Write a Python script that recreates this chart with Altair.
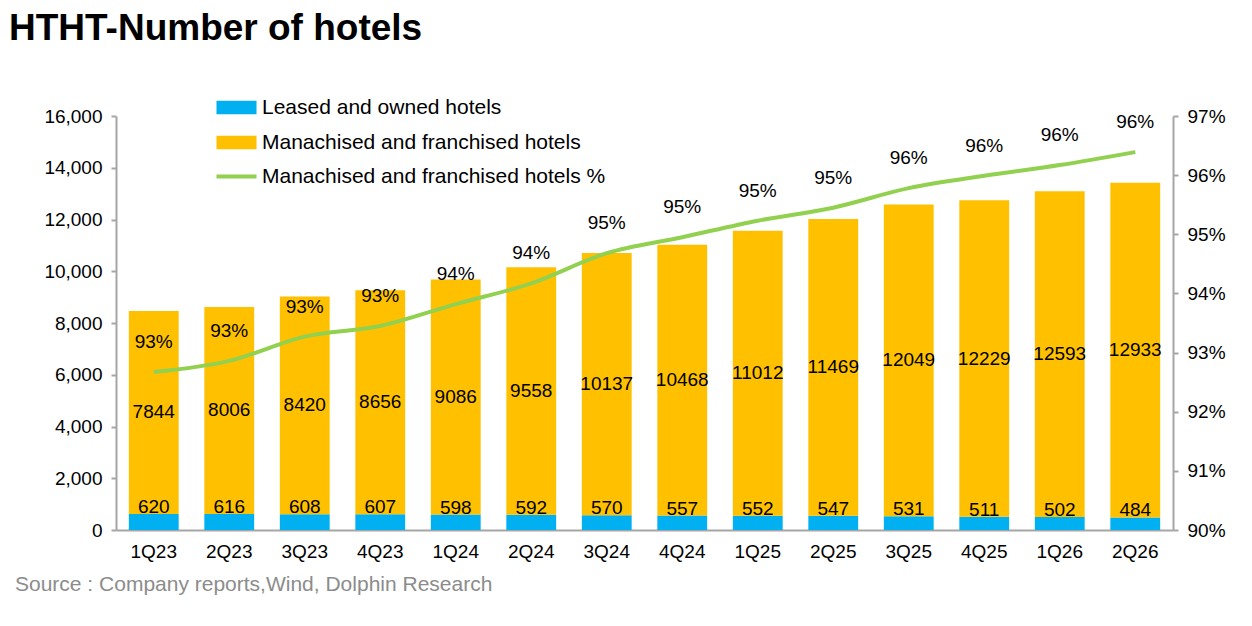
"""HTHT - number of hotels: stacked bars with franchised share line."""

import altair as alt
import pandas as pd

quarters = ["1Q23", "2Q23", "3Q23", "4Q23", "1Q24", "2Q24", "3Q24",
            "4Q24", "1Q25", "2Q25", "3Q25", "4Q25", "1Q26", "2Q26"]
leased = [620, 616, 608, 607, 598, 592, 570, 557, 552, 547, 531, 511, 502, 484]
franchised = [7844, 8006, 8420, 8656, 9086, 9558, 10137, 10468, 11012,
              11469, 12049, 12229, 12593, 12933]
franchised_pct = [0.9267, 0.9286, 0.9327, 0.9345, 0.9382, 0.9417, 0.9468,
                  0.9495, 0.9523, 0.9545, 0.9578, 0.9599, 0.9617, 0.9639]

LEASED = "Leased and owned hotels"
FRANCH = "Manachised and franchised hotels"
PCT = "Manachised and franchised hotels %"
TITLE = "HTHT-Number of hotels"
SOURCE = "Source : Company reports,Wind, Dolphin Research"

BLUE = "#00B0F0"
YELLOW = "#FFC000"
GREEN = "#92D050"
AXIS_GREY = "#a6a6a6"
FONT = "Liberation Sans"

# long table for the stacked bars
bars_df = pd.DataFrame(
    {
        "quarter": quarters * 2,
        "series": [LEASED] * len(quarters) + [FRANCH] * len(quarters),
        "value": leased + franchised,
        "order": [0] * len(quarters) + [1] * len(quarters),
    }
)
wide_df = pd.DataFrame(
    {"quarter": quarters, "leased": leased, "franchised": franchised,
     "pct": franchised_pct, "series": PCT}
)

x_enc = alt.X(
    "quarter:N",
    sort=quarters,
    title=None,
    scale=alt.Scale(paddingInner=0.34, paddingOuter=0.17),
    axis=alt.Axis(labelAngle=0, ticks=False, labelPadding=12, labelFontSize=19,
                  labelColor="black", domainColor=AXIS_GREY, domainWidth=2),
)

left_scale = alt.Scale(domain=[0, 16000], nice=False)
# wide rectangle / flat line symbols for the legend entries
rect_symbol = "M-3,-1H3V1H-3Z"
line_symbol = "M-3,0H3"

bars = (
    alt.Chart(bars_df)
    .mark_bar()
    .encode(
        x=x_enc,
        y=alt.Y(
            "value:Q",
            stack="zero",
            title=None,
            scale=left_scale,
            axis=alt.Axis(values=list(range(0, 16001, 2000)), format=",.0f",
                          grid=False, labelFontSize=19, labelColor="black",
                          domainColor=AXIS_GREY, domainWidth=2,
                          tickColor=AXIS_GREY, tickWidth=2, tickSize=5,
                          labelPadding=9),
        ),
        color=alt.Color(
            "series:N",
            scale=alt.Scale(domain=[LEASED, FRANCH], range=[BLUE, YELLOW]),
            legend=alt.Legend(
                title=None, orient="none", legendX=110, legendY=-19,
                symbolType=rect_symbol, symbolSize=178, symbolStrokeWidth=0,
                labelFontSize=21, labelColor="black", labelOffset=15,
                labelLimit=0, rowPadding=13, padding=0,
            ),
        ),
        order=alt.Order("order:Q"),
    )
)

franch_text = (
    alt.Chart(wide_df)
    .transform_calculate(mid="datum.leased + datum.franchised / 2")
    .mark_text(fontSize=19, color="black", baseline="middle")
    .encode(x=alt.X("quarter:N", sort=quarters), y=alt.Y("mid:Q", scale=left_scale),
            text="franchised:Q")
)

leased_text = (
    alt.Chart(wide_df)
    .mark_text(fontSize=19, color="black", baseline="alphabetic", dy=-1)
    .encode(x=alt.X("quarter:N", sort=quarters), y=alt.Y("leased:Q", scale=left_scale),
            text="leased:Q")
)

source = (
    alt.Chart(pd.DataFrame({"t": [SOURCE]}))
    .mark_text(fontSize=21, color="#8c8c8c", align="left", baseline="middle")
    .encode(x=alt.value(-101), y=alt.value(469), text="t:N")
)

title = (
    alt.Chart(pd.DataFrame({"t": [TITLE]}))
    .mark_text(fontSize=37, fontWeight="bold", color="black", align="left",
               baseline="alphabetic")
    .encode(x=alt.value(-107), y=alt.value(-76), text="t:N")
)

right_scale = alt.Scale(domain=[0.90, 0.97], nice=False)

line = (
    alt.Chart(wide_df)
    .mark_line(interpolate="monotone", strokeWidth=4)
    .encode(
        x=alt.X("quarter:N", sort=quarters),
        y=alt.Y(
            "pct:Q",
            title=None,
            scale=right_scale,
            axis=alt.Axis(orient="right", values=[0.90, 0.91, 0.92, 0.93, 0.94,
                                                  0.95, 0.96, 0.97],
                          format=".0%", grid=False, labelFontSize=19,
                          labelColor="black", domainColor=AXIS_GREY,
                          domainWidth=2, tickColor=AXIS_GREY, tickWidth=2,
                          tickSize=5, labelPadding=9),
        ),
        color=alt.Color(
            "series:N",
            scale=alt.Scale(domain=[PCT], range=[GREEN]),
            legend=alt.Legend(
                title=None, orient="none", legendX=110, legendY=50,
                symbolType=line_symbol, symbolSize=178, symbolStrokeWidth=4,
                labelFontSize=21, labelColor="black", labelOffset=15,
                labelLimit=0, padding=0,
            ),
        ),
    )
)

pct_text = (
    alt.Chart(wide_df)
    .mark_text(fontSize=19, color="black", baseline="middle", dy=-30)
    .encode(x=alt.X("quarter:N", sort=quarters),
            y=alt.Y("pct:Q", scale=right_scale),
            text=alt.Text("pct:Q", format=".0%"))
)

chart = (
    alt.layer(
        alt.layer(bars, franch_text, leased_text, source, title),
        alt.layer(line, pct_text),
    )
    .resolve_scale(y="independent", color="independent")
    .properties(
        width=1057,
        height=414,
        autosize=alt.AutoSizeParams(type="none"),
        padding={"left": 108, "top": 108, "right": 71, "bottom": 88},
    )
    .configure(font=FONT)
    .configure_view(stroke=None)
)

chart.save("out.html", embed_options={"renderer": "svg", "actions": False})
